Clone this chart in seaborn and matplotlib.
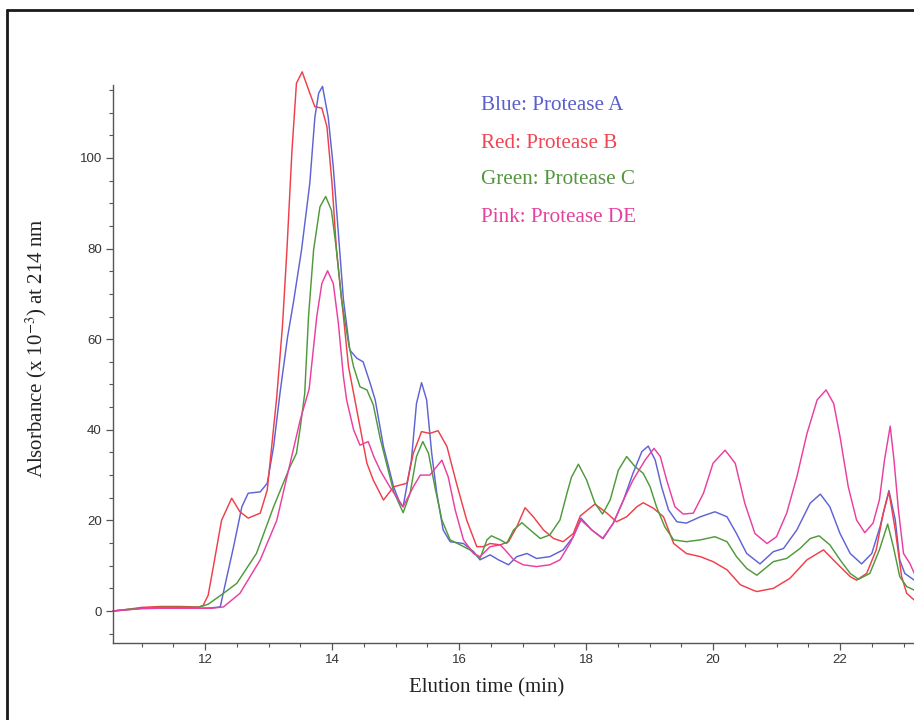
import matplotlib
matplotlib.use("Agg")
import matplotlib.pyplot as plt
from matplotlib.lines import Line2D
from matplotlib.ticker import MultipleLocator
import numpy as np
import pandas as pd
import seaborn as sns

# Elution time (min) and absorbance (x 10^-3 AU at 214 nm) for each digest
blue_t = [10.55, 10.8, 11.0, 11.3, 11.6, 11.9, 12.1, 12.24, 12.31, 12.45, 12.58, 12.68, 12.87, 12.98,
          13.08, 13.18, 13.30, 13.39, 13.52, 13.65, 13.73, 13.79, 13.85, 13.94, 14.02, 14.10, 14.18,
          14.28, 14.39, 14.49, 14.60, 14.68, 14.81, 14.97, 15.07, 15.12, 15.25, 15.33, 15.41, 15.49,
          15.57, 15.65, 15.75, 15.86, 16.07, 16.23, 16.33, 16.49, 16.62, 16.78, 16.91, 17.07, 17.22,
          17.43, 17.64, 17.80, 17.92, 18.09, 18.27, 18.43, 18.59, 18.74, 18.88, 18.98, 19.09, 19.19,
          19.30, 19.43, 19.58, 19.80, 20.03, 20.22, 20.37, 20.53, 20.74, 20.95, 21.11, 21.32, 21.53,
          21.69, 21.84, 22.00, 22.16, 22.34, 22.50, 22.63, 22.77, 22.87, 22.94, 23.02, 23.17]
blue_v = [0.0, 0.3, 0.6, 0.7, 0.6, 0.6, 0.7, 0.9, 5.4, 14.2, 23.0, 26.0, 26.3, 28.2,
          36.3, 48.0, 60.5, 67.9, 79.7, 94.4, 109.0, 114.3, 115.8, 109.0, 98.0, 83.4, 68.7,
          57.6, 55.8, 55.0, 50.3, 46.6, 36.3, 27.4, 23.8, 23.0, 33.3, 45.8, 50.4, 46.6,
          34.8, 26.0, 17.9, 15.3, 14.9, 13.1, 11.3, 12.4, 11.3, 10.2, 12.0, 12.7, 11.6,
          12.0, 13.5, 16.4, 20.5, 17.9, 16.0, 19.4, 24.5, 30.4, 35.2, 36.4, 33.3, 27.4,
          22.3, 19.7, 19.4, 20.8, 21.9, 20.8, 17.1, 12.7, 10.4, 13.1, 13.8, 17.9, 23.8,
          25.8, 23.0, 17.1, 12.7, 10.4, 12.7, 18.6, 26.6, 20.1, 11.3, 8.3, 6.8]

red_t = [10.55, 10.8, 11.0, 11.3, 11.6, 11.9, 11.97, 12.05, 12.13, 12.26, 12.42, 12.55, 12.68, 12.87,
         12.98, 13.05, 13.13, 13.22, 13.29, 13.37, 13.44, 13.53, 13.65, 13.73, 13.84, 13.92, 14.00,
         14.07, 14.18, 14.26, 14.36, 14.55, 14.65, 14.81, 14.97, 15.07, 15.18, 15.28, 15.41, 15.54,
         15.67, 15.81, 15.96, 16.12, 16.28, 16.38, 16.49, 16.65, 16.78, 16.91, 17.04, 17.17, 17.33,
         17.49, 17.64, 17.80, 17.91, 18.14, 18.33, 18.48, 18.64, 18.80, 18.90, 19.06, 19.22, 19.38,
         19.58, 19.80, 20.00, 20.22, 20.43, 20.63, 20.69, 20.95, 21.21, 21.48, 21.74, 21.95, 22.16,
         22.26, 22.42, 22.57, 22.68, 22.77, 22.87, 22.97, 23.05, 23.17]
red_v = [0.0, 0.4, 0.8, 1.0, 1.0, 0.9, 1.2, 3.5, 9.7, 20.0, 24.9, 21.9, 20.5, 21.6,
         26.7, 36.3, 47.3, 63.0, 79.7, 101.8, 116.5, 119.0, 114.3, 111.3, 111.0, 106.9, 94.4,
         79.7, 65.0, 53.9, 46.6, 32.6, 28.9, 24.5, 27.4, 27.8, 28.2, 34.8, 39.6, 39.2,
         39.8, 36.3, 28.2, 20.1, 14.2, 14.2, 14.9, 14.6, 15.3, 18.6, 22.8, 20.8, 17.9,
         16.0, 15.3, 17.1, 21.0, 23.6, 21.6, 19.7, 20.8, 23.0, 23.9, 22.7, 20.8, 14.9,
         12.7, 12.0, 10.9, 9.1, 5.8, 4.6, 4.3, 5.0, 7.2, 11.3, 13.5, 10.5, 7.6,
         6.8, 8.3, 13.5, 21.6, 26.3, 17.9, 7.6, 3.9, 2.4]

green_t = [10.55, 10.8, 11.0, 11.3, 11.6, 11.9, 12.05, 12.29, 12.50, 12.81, 13.08, 13.34, 13.44, 13.50,
           13.57, 13.63, 13.71, 13.81, 13.90, 13.99, 14.07, 14.15, 14.26, 14.34, 14.44, 14.55, 14.65,
           14.76, 14.97, 15.12, 15.23, 15.33, 15.43, 15.52, 15.62, 15.73, 15.86, 16.02, 16.17, 16.33,
           16.44, 16.51, 16.65, 16.75, 16.86, 16.99, 17.12, 17.28, 17.43, 17.59, 17.70, 17.77, 17.88,
           18.01, 18.14, 18.26, 18.38, 18.51, 18.64, 18.77, 18.90, 19.01, 19.11, 19.24, 19.38, 19.58,
           19.80, 20.03, 20.22, 20.37, 20.53, 20.69, 20.95, 21.16, 21.37, 21.53, 21.67, 21.84, 22.00,
           22.16, 22.29, 22.47, 22.62, 22.75, 22.84, 22.94, 23.05, 23.17]
green_v = [0.0, 0.4, 0.6, 0.8, 0.8, 0.8, 1.5, 3.9, 6.1, 12.7, 23.0, 31.9, 34.8, 40.5,
           48.0, 65.0, 79.7, 89.2, 91.5, 88.5, 79.7, 68.7, 59.1, 53.9, 49.5, 48.8, 45.5,
           38.0, 26.4, 21.7, 26.0, 34.1, 37.4, 34.8, 27.4, 20.1, 15.7, 14.6, 13.5, 11.6,
           15.7, 16.6, 15.7, 14.9, 17.9, 19.5, 17.9, 16.0, 16.8, 20.1, 26.0, 29.5, 32.4,
           28.9, 23.8, 21.4, 24.5, 31.1, 34.1, 31.9, 30.4, 27.4, 23.0, 18.6, 15.7, 15.3,
           15.7, 16.4, 15.3, 12.0, 9.4, 7.9, 10.9, 11.6, 13.8, 16.0, 16.6, 14.6, 11.3,
           8.3, 7.0, 8.3, 13.5, 19.2, 14.2, 7.6, 5.4, 4.6]

pink_t = [10.55, 10.8, 11.0, 11.3, 11.6, 11.9, 12.1, 12.29, 12.55, 12.87, 13.13, 13.34, 13.50, 13.64,
          13.76, 13.84, 13.93, 14.02, 14.10, 14.18, 14.23, 14.34, 14.44, 14.57, 14.66, 14.76, 14.91,
          15.12, 15.28, 15.39, 15.54, 15.65, 15.73, 15.83, 15.94, 16.07, 16.23, 16.33, 16.49, 16.65,
          16.75, 16.86, 17.01, 17.22, 17.43, 17.59, 17.75, 17.92, 18.09, 18.26, 18.43, 18.59, 18.74,
          18.93, 19.07, 19.17, 19.27, 19.40, 19.53, 19.69, 19.85, 20.00, 20.19, 20.35, 20.50, 20.66,
          20.85, 21.00, 21.16, 21.32, 21.48, 21.64, 21.78, 21.90, 22.00, 22.13, 22.26, 22.39, 22.52,
          22.62, 22.70, 22.79, 22.85, 22.92, 23.00, 23.10, 23.17]
pink_v = [0.0, 0.3, 0.5, 0.6, 0.6, 0.6, 0.6, 0.9, 3.9, 11.3, 20.0, 32.6, 42.2, 49.0,
          65.0, 72.3, 75.1, 72.3, 63.5, 51.7, 46.6, 40.0, 36.6, 37.4, 34.0, 31.0, 27.4,
          23.0, 27.4, 30.0, 30.0, 31.9, 33.3, 29.6, 22.3, 15.7, 12.7, 12.0, 14.2, 14.6,
          13.1, 11.3, 10.2, 9.8, 10.2, 11.3, 15.0, 20.1, 17.9, 16.0, 19.4, 24.5, 28.9,
          33.3, 35.9, 34.1, 28.9, 23.0, 21.4, 21.6, 26.0, 32.6, 35.5, 32.6, 23.8, 17.1,
          14.9, 16.4, 21.6, 29.6, 39.2, 46.6, 48.8, 45.8, 38.5, 27.4, 20.1, 17.3, 19.4,
          24.5, 33.3, 40.8, 33.3, 22.3, 12.7, 10.5, 8.3]

series_names = ["Protease A", "Protease B", "Protease C", "Protease DE"]
legend_labels = ["Blue: Protease A", "Red: Protease B", "Green: Protease C", "Pink: Protease DE"]
line_colors = ["#5f63d4", "#ef3f4a", "#4f9a3c", "#ea3fa0"]
text_colors = ["#5a5fcc", "#ee4654", "#55963f", "#e6419f"]

x_ticks = [12, 14, 16, 18, 20, 22]
y_ticks = [0, 20, 40, 60, 80, 100]

frames = []
for name, t, v in zip(series_names, [blue_t, red_t, green_t, pink_t],
                      [blue_v, red_v, green_v, pink_v]):
    frames.append(pd.DataFrame({"time": t, "absorbance": v, "sample": name}))
data = pd.concat(frames, ignore_index=True)

sns.set_theme(style="white")
plt.rcParams["font.family"] = ["Liberation Sans", "DejaVu Sans"]
plt.rcParams["mathtext.fontset"] = "stix"

W, H = 914, 720
fig = plt.figure(figsize=(W / 100, H / 100), dpi=100)
ax = fig.add_axes([113 / W, 1 - 643 / H, (W - 113) / W, (643 - 85) / H])

sns.lineplot(data=data, x="time", y="absorbance", hue="sample", hue_order=series_names,
             palette=dict(zip(series_names, line_colors)), estimator=None, sort=False,
             linewidth=1.05, legend=False, ax=ax)
# the tallest peak rises above the end of the y axis
for ln in ax.lines:
    ln.set_clip_on(False)

ax.set_xlim(10.551, 23.165)
ax.set_ylim(-7.06, 116.1)

sns.despine(ax=ax, top=True, right=True)
for side in ("left", "bottom"):
    ax.spines[side].set_color("#555555")
    ax.spines[side].set_linewidth(1.0)

ax.set_xticks(x_ticks)
ax.set_yticks(y_ticks)
ax.xaxis.set_minor_locator(MultipleLocator(0.5))
ax.yaxis.set_minor_locator(MultipleLocator(5))
ax.tick_params(which="major", direction="out", length=5, width=0.9, color="#555555",
               labelsize=9.5, labelcolor="#333333", pad=3, bottom=True, left=True)
ax.tick_params(which="minor", direction="out", length=3, width=0.8, color="#555555",
               bottom=True, left=True)

serif = ["Liberation Serif", "DejaVu Serif"]
ax.set_xlabel("Elution time (min)", family=serif, fontsize=15, color="#222222")
ax.set_ylabel("Alsorbance (x 10$^{-3}$) at 214 nm", family=serif, fontsize=15, color="#222222")
ax.xaxis.label.set_va("center")
ax.yaxis.label.set_va("center")
ax.xaxis.set_label_coords((487 - 113) / 801, (643 - 688) / 558)
ax.yaxis.set_label_coords((36 - 113) / 801, (643 - 348) / 558)

for i, (lab, col) in enumerate(zip(legend_labels, text_colors)):
    ypix = 106 + i * 37
    ax.text((481 - 113) / 801, (643 - ypix) / 558, lab, transform=ax.transAxes,
            family=serif, fontsize=15.2, color=col, ha="left", va="center")

# outer frame edges
fig.add_artist(Line2D([7 / W, 7 / W], [0, 1 - 10 / H], transform=fig.transFigure,
                      color="#1a1a1a", linewidth=2.0))
fig.add_artist(Line2D([7 / W, 1], [1 - 10 / H, 1 - 10 / H], transform=fig.transFigure,
                      color="#1a1a1a", linewidth=2.0))

fig.savefig("out.png", dpi=100)
